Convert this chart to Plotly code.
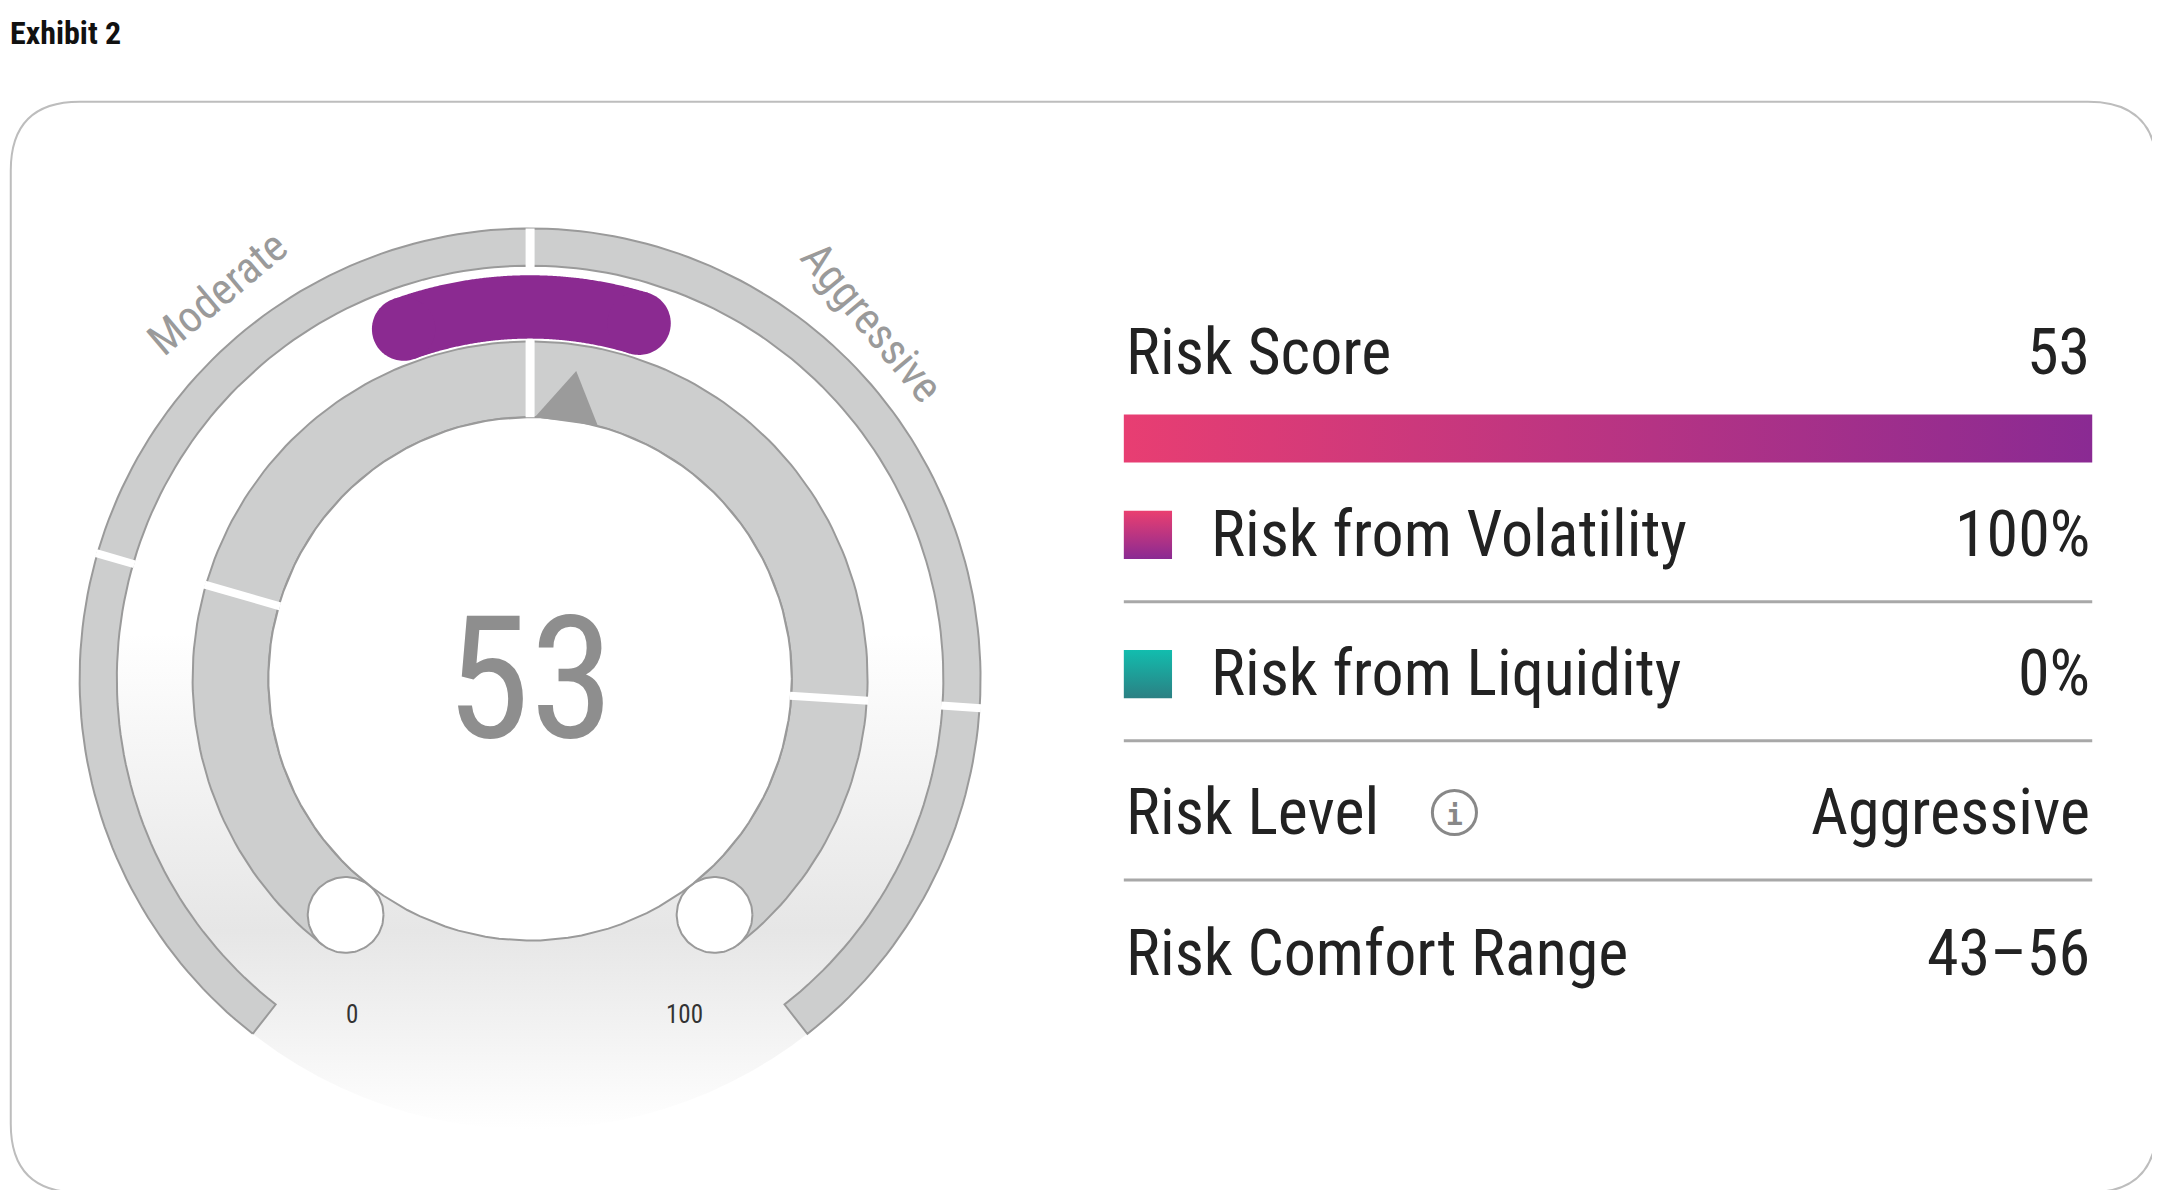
import numpy as np
import plotly.graph_objects as go

risk_score = 53
comfort_low, comfort_high = 43, 56
band_bounds = [24, 83]          # level boundaries on the 0-100 dial
scale_labels = ["0", "100"]
level_labels = ["Moderate", "Aggressive"]
row_labels = ["Risk from Volatility", "Risk from Liquidity", "Risk Level", "Risk Comfort Range"]
row_values = ["100%", "0%", "Aggressive", "43–56"]

W, H = 2160, 1190
s = W / 1568
cx, cy = 379 * s, 487 * s
SPAN = 142.0
FONT = "Liberation Sans Narrow, Roboto Condensed, Roboto, sans-serif"

def ang(v):
    return np.radians(-SPAN + v / 100 * 2 * SPAN)

def pt(r, a):
    return cx + r * s * np.sin(a), cy - r * s * np.cos(a)

def arc(r1, r2, v1, v2, n=200):
    a = np.linspace(ang(v1), ang(v2), n)
    xo, yo = pt(r2, a)
    xi, yi = pt(r1, a[::-1])
    return list(xo) + list(xi) + [xo[0]], list(yo) + list(yi) + [yo[0]]

def circ(r, x0, y0, n=120):
    t = np.linspace(0, 2 * np.pi, n)
    return list(x0 + r * np.cos(t)), list(y0 + r * np.sin(t))

fig = go.Figure()

x, y = circ(327 * s, cx, cy)
fig.add_trace(go.Scatter(x=x, y=y, fill="toself", mode="none",
    fillgradient=dict(type="vertical", colorscale=[[0, "#ffffff"], [0.22, "#e6e6e6"], [0.55, "#ffffff"], [1, "#ffffff"]])))

GRAY = "#cdcece"
x, y = arc(300, 327, 0, 100)
fig.add_trace(go.Scatter(x=x, y=y, fill="toself", fillcolor=GRAY, line=dict(color="#9a9a9a", width=2), mode="lines"))
x, y = arc(190, 245, 0, 100)
fig.add_trace(go.Scatter(x=x, y=y, fill="toself", fillcolor=GRAY, line=dict(color="#9a9a9a", width=2), mode="lines"))
for v in (0, 100):
    px, py = pt(217.5, ang(v))
    x, y = circ(27.5 * s, px, py)
    fig.add_trace(go.Scatter(x=x, y=y, fill="toself", fillcolor="#ffffff", line=dict(color="#9a9a9a", width=2), mode="lines"))
x, y = circ(190 * s, cx, cy)
fig.add_trace(go.Scatter(x=x, y=y, fill="toself", fillcolor="#ffffff", line=dict(color="#9a9a9a", width=2), mode="lines"))

for v in band_bounds:
    for r1, r2 in ((299, 328), (189, 246)):
        x, y = pt(np.array([r1, r2]), ang(v))
        fig.add_trace(go.Scatter(x=x, y=y, mode="lines", line=dict(color="white", width=8)))
x, y = pt(np.array([190, 327]), ang(50))
fig.add_trace(go.Scatter(x=x, y=y, mode="lines", line=dict(color="white", width=9)))

# comfort range pill
PUR = "#8b2a91"
x, y = arc(247, 293, comfort_low, comfort_high)
fig.add_trace(go.Scatter(x=x, y=y, fill="toself", fillcolor=PUR, mode="none"))
for v in (comfort_low, comfort_high):
    px, py = pt(270, ang(v))
    x, y = circ(23 * s, px, py)
    fig.add_trace(go.Scatter(x=x, y=y, fill="toself", fillcolor=PUR, mode="none"))

a0 = ang(risk_score)
tx, ty = zip(pt(226, a0), pt(190, a0 + np.radians(6.5)), pt(190, a0 - np.radians(7.5)))
fig.add_trace(go.Scatter(x=list(tx) + [tx[0]], y=list(ty) + [ty[0]], fill="toself", fillcolor="#9b9b9b", mode="none"))

ann = []
ann.append(dict(x=cx, y=cy, text=str(risk_score), font=dict(size=170, color="#8e8e8e", family=FONT)))
ann.append(dict(x=250 * s, y=731 * s, text=scale_labels[0], font=dict(size=25, color="#333", family=FONT)))
ann.append(dict(x=491 * s, y=731 * s, text=scale_labels[1], font=dict(size=25, color="#333", family=FONT)))
ann.append(dict(x=152 * s, y=207 * s, text=level_labels[0], textangle=-40, font=dict(size=44, color="#9a9a9a", family=FONT)))
ann.append(dict(x=627 * s, y=228 * s, text=level_labels[1], textangle=50, font=dict(size=44, color="#9a9a9a", family=FONT)))
ann.append(dict(x=0, y=18 * s, text="<b>Exhibit 2</b>", xanchor="left", font=dict(size=32, color="#111", family=FONT)))

L, R = 810 * s, 1513 * s
fs = 64
ann.append(dict(x=L, y=250 * s, text="Risk Score", xanchor="left", font=dict(size=fs, color="#222", family=FONT)))
ann.append(dict(x=R, y=250 * s, text=str(risk_score), xanchor="right", font=dict(size=fs, color="#222", family=FONT)))
fig.add_trace(go.Scatter(x=[L, R, R, L, L], y=[295 * s, 295 * s, 330 * s, 330 * s, 295 * s], fill="toself", mode="none",
    fillgradient=dict(type="horizontal", colorscale=[[0, "#e83e72"], [1, "#8a2a93"]])))
ys = [382, 483, 584, 686]
for i, (lab, val) in enumerate(zip(row_labels, row_values)):
    yy = ys[i] * s
    xl = 872 * s if i < 2 else L
    ann.append(dict(x=xl, y=yy, text=lab, xanchor="left", font=dict(size=fs, color="#222", family=FONT)))
    ann.append(dict(x=R, y=yy, text=val, xanchor="right", font=dict(size=fs, color="#222", family=FONT)))
    if i < 3:
        fig.add_shape(type="line", x0=L, x1=R, y0=(ys[i] + 49) * s, y1=(ys[i] + 49) * s, line=dict(color="#a8a8a8", width=3))
cols = [["#ea3f70", "#8a2a93"], ["#12bdae", "#2b8083"]]
for i in range(2):
    y0, y1 = (ys[i] - 17) * s, (ys[i] + 18) * s
    x0, x1 = 810 * s, 845 * s
    fig.add_trace(go.Scatter(x=[x0, x1, x1, x0, x0], y=[y0, y0, y1, y1, y0], fill="toself", mode="none",
        fillgradient=dict(type="vertical", colorscale=[[0, cols[i][1]], [1, cols[i][0]]])))
ix = 1050
fig.add_shape(type="circle", x0=(ix - 16) * s, x1=(ix + 16) * s, y0=(584 - 16) * s, y1=(584 + 16) * s, line=dict(color="#888", width=3))
ann.append(dict(x=ix * s, y=586 * s, text="<b>i</b>", font=dict(size=28, color="#888", family="DejaVu Sans Mono")))

for a_ in ann:
    a_.update(showarrow=False, xref="x", yref="y")
fig.update_layout(annotations=ann)

r = 50 * s
x0, y0, x1, y1 = 2 * s, 68 * s, 1560 * s, 860 * s
fig.add_shape(type="path", line=dict(color="#bdbdbd", width=2),
    path=f"M{x0+r},{y0} L{x1-r},{y0} Q{x1},{y0} {x1},{y0+r} L{x1},{y1-r} Q{x1},{y1} {x1-r},{y1} L{x0+r},{y1} Q{x0},{y1} {x0},{y1-r} L{x0},{y0+r} Q{x0},{y0} {x0+r},{y0} Z")

fig.update_layout(width=W, height=H, margin=dict(l=0, r=0, t=0, b=0), showlegend=False,
    plot_bgcolor="white", paper_bgcolor="white",
    xaxis=dict(range=[0, W], visible=False, fixedrange=True),
    yaxis=dict(range=[H, 0], visible=False, fixedrange=True))
fig.write_html("out.html", config={"displayModeBar": False})
